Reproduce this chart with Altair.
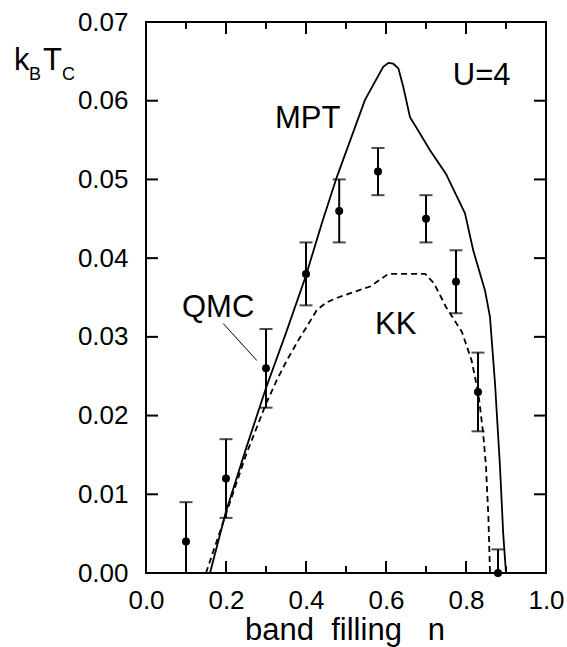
import altair as alt
import pandas as pd

# QMC critical temperatures with error bars
qmc_n = [0.10, 0.20, 0.30, 0.40, 0.483, 0.58, 0.70, 0.775, 0.83, 0.88]
qmc_t = [0.004, 0.012, 0.026, 0.038, 0.046, 0.051, 0.045, 0.037, 0.023, 0.000]
qmc_err = [0.005, 0.005, 0.005, 0.004, 0.004, 0.003, 0.003, 0.004, 0.005, 0.003]

# MPT curve (solid)
mpt_n = [0.160, 0.200, 0.250, 0.300, 0.350, 0.400, 0.440, 0.477, 0.5475, 0.593,
         0.606, 0.618, 0.631, 0.643, 0.660, 0.677, 0.710, 0.750, 0.7975, 0.818,
         0.8475, 0.860, 0.8725, 0.885, 0.893, 0.900]
mpt_t = [0.0, 0.0078, 0.0158, 0.0235, 0.0305, 0.0378, 0.0445, 0.0503, 0.0601, 0.0643,
         0.0648, 0.0647, 0.0641, 0.0618, 0.0579, 0.0565, 0.0537, 0.0507, 0.0457, 0.0410,
         0.0359, 0.0325, 0.0241, 0.0135, 0.0050, 0.0]

# KK curve (dashed)
kk_n = [0.150, 0.200, 0.250, 0.300, 0.327, 0.352, 0.380, 0.402, 0.427, 0.452,
        0.480, 0.520, 0.560, 0.606, 0.698, 0.720, 0.750, 0.790, 0.814, 0.831,
        0.843, 0.850, 0.856, 0.860]
kk_t = [0.0, 0.0075, 0.0150, 0.0215, 0.0245, 0.0270, 0.0295, 0.0313, 0.0334, 0.0344,
        0.0350, 0.0357, 0.0364, 0.0380, 0.0380, 0.0368, 0.0338, 0.0306, 0.0270, 0.0228,
        0.0177, 0.0135, 0.0071, 0.0]

x_ticks_major = [0.0, 0.2, 0.4, 0.6, 0.8, 1.0]
x_ticks_minor = [0.1, 0.3, 0.5, 0.7, 0.9]
y_ticks = [0.00, 0.01, 0.02, 0.03, 0.04, 0.05, 0.06, 0.07]

W, H = 400, 551
FONT = "Liberation Sans"

qmc = pd.DataFrame({"n": qmc_n, "t": qmc_t, "err": qmc_err})
qmc["lo"] = qmc["t"] - qmc["err"]
qmc["hi"] = qmc["t"] + qmc["err"]
mpt = pd.DataFrame({"n": mpt_n, "t": mpt_t, "i": range(len(mpt_n))})
kk = pd.DataFrame({"n": kk_n, "t": kk_t, "i": range(len(kk_n))})

xs = alt.Scale(domain=[0, 1], nice=False)
ys = alt.Scale(domain=[0, 0.07], nice=False, zero=False)

x_axis = alt.Axis(values=x_ticks_major, format=".1f", labelPadding=14, labelFlush=False)
y_axis = alt.Axis(values=y_ticks, format=".2f", labelPadding=18, labelFlush=False)

X = alt.X("n:Q", scale=xs, axis=x_axis, title=None)
Y = alt.Y("t:Q", scale=ys, axis=y_axis, title=None)

mpt_line = alt.Chart(mpt).mark_line(color="black", strokeWidth=1.8).encode(
    x=X, y=Y, order="i:Q")
kk_line = alt.Chart(kk).mark_line(color="black", strokeWidth=1.8, strokeDash=[6, 4]).encode(
    x=X, y=Y, order="i:Q")

bars = alt.Chart(qmc).mark_rule(color="black", strokeWidth=2, clip=True).encode(
    x=X, y=alt.Y("lo:Q", scale=ys, axis=y_axis, title=None), y2="hi:Q")
cap_hi = alt.Chart(qmc).mark_tick(orient="horizontal", size=13, thickness=2,
                                  color="black", clip=True).encode(
    x=X, y=alt.Y("hi:Q", scale=ys, axis=y_axis, title=None))
cap_lo = alt.Chart(qmc).mark_tick(orient="horizontal", size=13, thickness=2,
                                  color="black", clip=True).encode(
    x=X, y=alt.Y("lo:Q", scale=ys, axis=y_axis, title=None))
dots = alt.Chart(qmc).mark_point(filled=True, color="black", size=64, opacity=1).encode(
    x=X, y=Y)

# inward tick marks on all four sides
yt = pd.DataFrame({"t": y_ticks})
xmaj = pd.DataFrame({"n": x_ticks_major})
xmin = pd.DataFrame({"n": x_ticks_minor})
tick_style = dict(color="black", strokeWidth=2)
ticks = [
    alt.Chart(yt).mark_rule(**tick_style).encode(y=Y, x=alt.value(0), x2=alt.value(12)),
    alt.Chart(yt).mark_rule(**tick_style).encode(y=Y, x=alt.value(W), x2=alt.value(W - 12)),
    alt.Chart(xmaj).mark_rule(**tick_style).encode(x=X, y=alt.value(H), y2=alt.value(H - 12)),
    alt.Chart(xmaj).mark_rule(**tick_style).encode(x=X, y=alt.value(0), y2=alt.value(12)),
    alt.Chart(xmin).mark_rule(**tick_style).encode(x=X, y=alt.value(H), y2=alt.value(H - 7)),
    alt.Chart(xmin).mark_rule(**tick_style).encode(x=X, y=alt.value(0), y2=alt.value(7)),
]


def label(text, n, t, size=31):
    return alt.Chart(pd.DataFrame({"s": [text]})).mark_text(
        font=FONT, fontSize=size, align="left", baseline="alphabetic", color="black"
    ).encode(x=alt.datum(n, scale=xs), y=alt.datum(t, scale=ys), text="s:N")


labels = [
    label("U=4", 0.767, 0.0620),
    label("MPT", 0.3225, 0.0565),
    label("QMC", 0.090, 0.0325),
    label("KK", 0.5725, 0.0303),
]

pointer = alt.Chart(pd.DataFrame({"a": [0]})).mark_rule(color="black", strokeWidth=1).encode(
    x=alt.datum(0.193, scale=xs), y=alt.datum(0.0317, scale=ys),
    x2=alt.datum(0.277), y2=alt.datum(0.0270))


def free_text(text, x, y, size):
    return alt.Chart(pd.DataFrame({"s": [text]})).mark_text(
        font=FONT, fontSize=size, align="left", baseline="alphabetic", color="black"
    ).encode(x=alt.value(x), y=alt.value(y), text="s:N")


# y-axis title k_B T_C and x-axis title
y_title = [
    free_text("k", -132, 48, 31),
    free_text("B", -117, 58, 18),
    free_text("T", -103, 48, 31),
    free_text("C", -84, 58, 18),
]
x_title = alt.Chart(pd.DataFrame({"s": ["band\u00a0\u00a0filling\u00a0\u00a0\u00a0n"]})).mark_text(
    font=FONT, fontSize=31, align="center", baseline="alphabetic", color="black"
).encode(x=alt.value(199), y=alt.value(618), text="s:N")

chart = alt.layer(
    *ticks, mpt_line, kk_line, bars, cap_hi, cap_lo, dots, pointer, *labels, *y_title, x_title
).properties(
    width=W, height=H,
    autosize=alt.AutoSizeParams(type="none"),
    padding={"left": 146, "top": 22, "right": 21, "bottom": 74},
    background="white",
).configure_view(
    stroke="black", strokeWidth=2
).configure_axis(
    grid=False, domain=False, ticks=False, tickSize=0,
    labelFont=FONT, labelFontSize=26, labelColor="black",
)

chart.save("out.html", embed_options={"renderer": "svg", "actions": False})
